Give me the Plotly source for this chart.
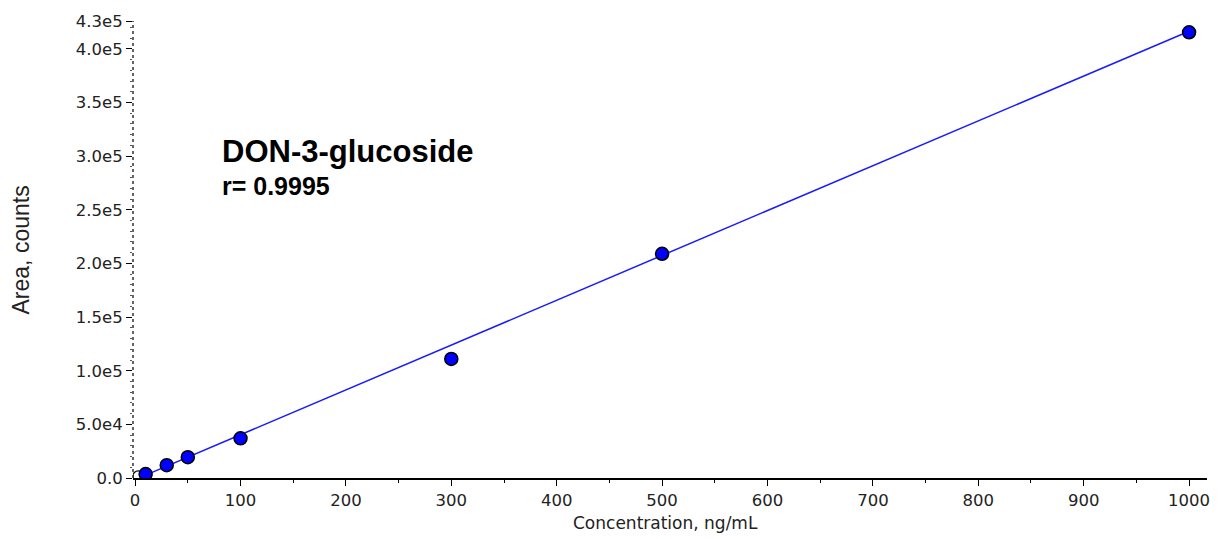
import numpy as np
import plotly.graph_objects as go

# Calibration standards (ng/mL) and measured peak areas (counts)
concentration = [10, 30, 50, 100, 300, 500, 1000]
area = [3700, 12000, 19400, 37000, 111000, 209000, 415500]

# Excluded standard (shown hollow)
excluded_conc = [3]
excluded_area = [1500]

# Linear regression parameters of the calibration curve
fit_slope = 418.0
fit_intercept = -1500.0
fit_range = [10, 1000]

y_tick_vals = [0, 50000, 100000, 150000, 200000, 250000, 300000, 350000, 400000, 426000]
y_tick_text = ["0.0", "5.0e4", "1.0e5", "1.5e5", "2.0e5", "2.5e5", "3.0e5", "3.5e5", "4.0e5", "4.3e5"]
x_tick_vals = [0, 100, 200, 300, 400, 500, 600, 700, 800, 900, 1000]

fit_x = np.linspace(fit_range[0], fit_range[1], 200)
fit_y = fit_slope * fit_x + fit_intercept

tick_font = dict(family="DejaVu Sans", size=16.5, color="#222222")

# Figure margins and plot-area size in pixels
M_L, M_R, M_T, M_B = 133, 16, 14, 61
PLOT_W = 1223 - M_L - M_R
PLOT_H = 539 - M_T - M_B
X_AXIS_Y = 539 - M_B

fig = go.Figure()
fig.add_trace(go.Scatter(
    x=fit_x, y=fit_y, mode="lines",
    line=dict(color="#1a1aff", width=1.5),
    hoverinfo="skip", showlegend=False,
))
fig.add_trace(go.Scatter(
    x=excluded_conc, y=excluded_area, mode="markers",
    marker=dict(symbol="circle", size=11, color="white",
                line=dict(color="black", width=1.2)),
    showlegend=False,
))
fig.add_trace(go.Scatter(
    x=concentration, y=area, mode="markers",
    marker=dict(symbol="circle", size=13, color="#0000ff",
                line=dict(color="black", width=1.5)),
    showlegend=False,
))

fig.update_xaxes(
    range=[-2, 1017], tickvals=x_tick_vals,
    showgrid=False, zeroline=False,
    showline=True, linecolor="black", linewidth=1.5,
    ticks="outside", ticklen=6, tickcolor="black", tickwidth=1.2,
    minor=dict(tick0=50, dtick=100, ticks="outside", ticklen=3, tickcolor="black"),
    tickfont=tick_font,
)
fig.update_yaxes(
    range=[0, 426000], tickvals=y_tick_vals, ticktext=y_tick_text,
    showgrid=False, zeroline=False, showline=False,
    ticks="outside", ticklen=6, tickcolor="black", tickwidth=1.2,
    minor=dict(dtick=10000, ticks="outside", ticklen=2, tickcolor="#555555"),
    tickfont=tick_font,
)

# Dotted vertical axis line
fig.add_shape(type="line", xref="paper", yref="paper", x0=0, x1=0, y0=0, y1=1,
              line=dict(color="black", width=1.2, dash="dot"))

# Axis titles
fig.add_annotation(
    x=(665 - M_L) / PLOT_W, y=-(524 - X_AXIS_Y) / PLOT_H, xref="paper", yref="paper",
    showarrow=False, text="Concentration, ng/mL", xanchor="center", yanchor="middle",
    font=dict(family="DejaVu Sans", size=17, color="#222222"),
)
fig.add_annotation(
    x=-(M_L - 21) / PLOT_W, y=(X_AXIS_Y - 247) / PLOT_H, xref="paper", yref="paper",
    showarrow=False, text="Area, counts", textangle=-90, xanchor="center", yanchor="middle",
    font=dict(family="Liberation Sans", size=23, color="#222222"),
)

fig.add_annotation(
    x=0.081, y=(X_AXIS_Y - 147) / PLOT_H, xref="paper", yref="paper", xanchor="left", yanchor="middle",
    text="<b>DON-3-glucoside</b>", showarrow=False,
    font=dict(family="Liberation Sans", size=31, color="black"),
)
fig.add_annotation(
    x=0.081, y=(X_AXIS_Y - 182) / PLOT_H, xref="paper", yref="paper", xanchor="left", yanchor="middle",
    text="<b>r= 0.9995</b>", showarrow=False,
    font=dict(family="Liberation Sans", size=25, color="black"),
)

fig.update_layout(
    width=1223, height=539,
    margin=dict(l=M_L, r=M_R, t=M_T, b=M_B),
    paper_bgcolor="white", plot_bgcolor="white",
    showlegend=False,
)

fig.write_html("out.html")
